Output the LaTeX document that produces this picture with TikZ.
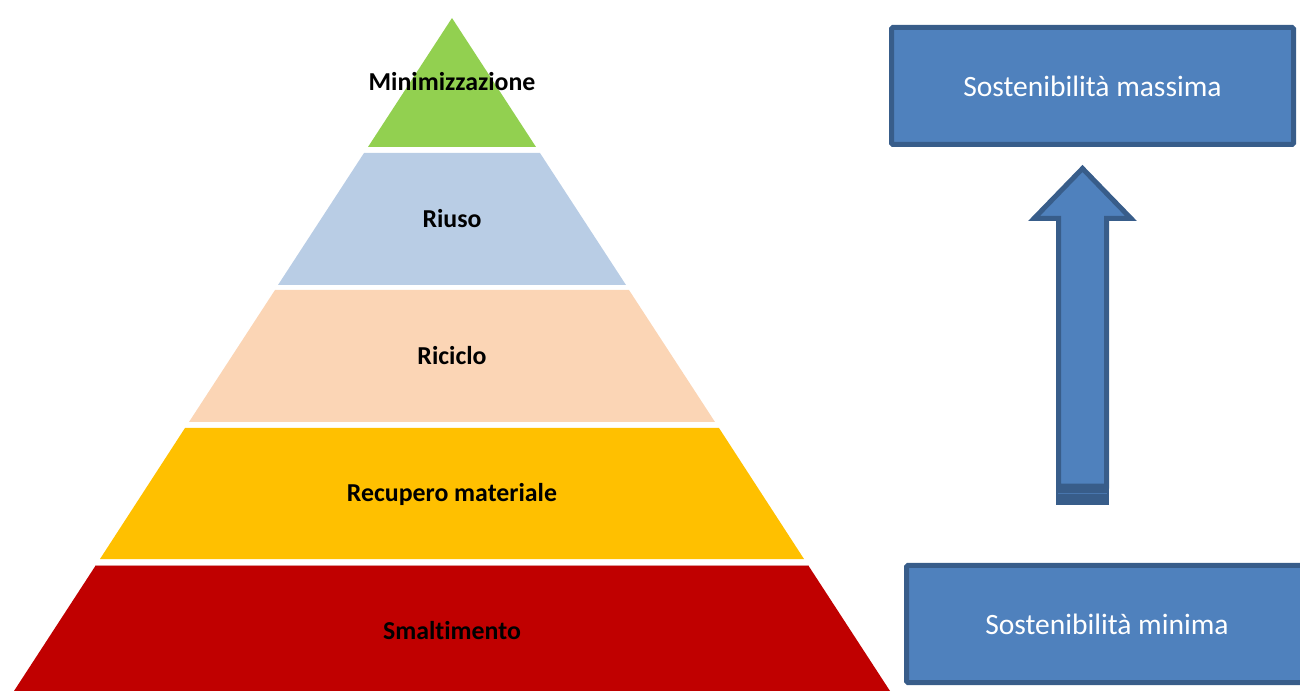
\documentclass[tikz,border=0pt]{standalone}
\usepackage{fontspec}
\setmainfont{Carlito}[Ligatures=NoCommon]
\definecolor{lgreen}{HTML}{92D050}
\definecolor{lblue}{HTML}{B9CDE5}
\definecolor{lpeach}{HTML}{FBD5B5}
\definecolor{lyellow}{HTML}{FFC000}
\definecolor{lred}{HTML}{C00000}
\definecolor{boxfill}{HTML}{4F81BD}
\definecolor{boxline}{HTML}{385D8A}
\tikzset{
  layer/.style={draw=none},
  lbl/.style={font=\fontsize{14.7}{17}\selectfont\bfseries, text=black, inner sep=0pt},
  sbox/.style={draw=boxline, fill=boxfill, line width=1mm, rounded corners=0.3mm,
    minimum width=80.4mm, minimum height=23.4mm, text=white,
    font=\fontsize{16.8}{20}\selectfont, inner sep=0pt},
  barrow/.style={draw=boxline, fill=boxfill, line width=1mm, line join=miter}
}
\begin{document}
\begin{tikzpicture}[x=0.2mm,y=-0.2mm]
\useasboundingbox (0,0) rectangle (1300,691);
\clip (0,0) rectangle (1300,691);
% pyramid layers
\fill[lgreen]  (452,18) -- (536,147) -- (368,147) -- cycle;
\fill[lblue]   (364,153) -- (540,153) -- (626,285) -- (278,285) -- cycle;
\fill[lpeach]  (275,290) -- (629,290) -- (715,422) -- (189,422) -- cycle;
\fill[lyellow] (185,428) -- (719,428) -- (804,559) -- (100,559) -- cycle;
\fill[lred]    (96,565) -- (808,565) -- (890,691) -- (14,691) -- cycle;
\draw[line width=0.25mm, draw={rgb,255:red,222;green,150;blue,150}] (96,565.5) -- (808,565.5);
% labels
\node[lbl] (minim) at (452,82) {Minimizzazione};
\node[lbl] (riuso) at (452,219) {Riuso};
\node[lbl] (ricic) at (452,356) {Riciclo};
\node[lbl] (recup) at (452,494) {Recupero materiale};
\node[lbl] (smalt) at (452,631) {Smaltimento};
% boxes
\node[sbox] (smax) at (1092.5,86) {Sostenibilità massima};
\node[sbox, minimum width=80.2mm] (smin) at (1107,624) {Sostenibilità minima};
% block arrow
\fill[boxline] (1056,484) rectangle (1109,505);
\draw[boxfill!70!boxline, line width=0.2mm] (1058,493) -- (1107,493);
\draw[barrow] (1058.5,486) -- (1058.5,218.5) -- (1034,218.5) -- (1082.5,168.5)
  -- (1131,218.5) -- (1106.5,218.5) -- (1106.5,486) -- cycle;
\end{tikzpicture}
\end{document}
